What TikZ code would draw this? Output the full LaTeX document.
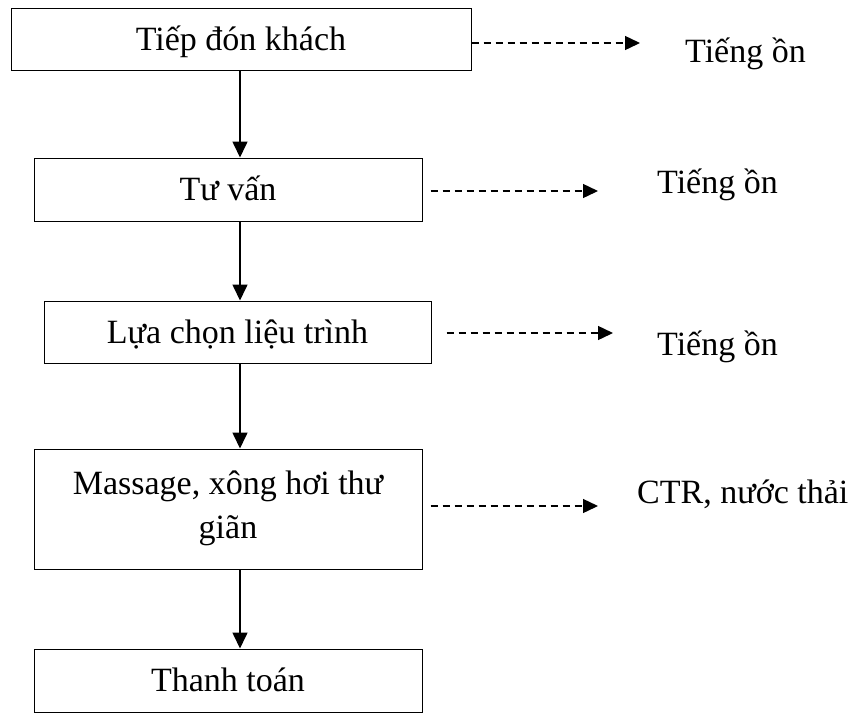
\documentclass[tikz,border=0pt]{standalone}
\usepackage{fontspec}
\setmainfont{Liberation Serif}
\usetikzlibrary{arrows.meta}
\begin{document}
\begin{tikzpicture}[x=1pt,y=-1pt,
  box/.style={draw, line width=1pt, inner sep=0pt, align=center,
    text height=22pt, text depth=0pt,
    font=\fontsize{34}{44}\selectfont},
  lbl/.style={anchor=base west, inner sep=0pt, font=\fontsize{34}{44}\selectfont},
  flow/.style={line width=1.6pt, -{Triangle[length=16pt,width=15pt]}},
  emit/.style={line width=1.4pt, dash pattern=on 7pt off 5pt,
    -{Triangle[length=15pt,width=14pt]}}]
\useasboundingbox (0,0) rectangle (860,713);

\node[box, minimum width=460pt, minimum height=62pt] (b1) at (241,39) {Tiếp đón khách};
\node[box, minimum width=388pt, minimum height=63pt] (b2) at (228,189.5) {Tư vấn};
\node[box, minimum width=387pt, minimum height=62pt] (b3) at (237.5,332) {Lựa chọn liệu trình};
\node[box, minimum width=388pt, minimum height=120pt, text height=66pt, text depth=8pt] (b4) at (228,509) {Massage, xông hơi thư\\giãn};
\node[box, minimum width=388pt, minimum height=63pt] (b5) at (228,680.5) {Thanh toán};

\coordinate (ax) at (240,0);
\draw[flow] (b1.south -| ax) -- (b2.north -| ax);
\draw[flow] (b2.south -| ax) -- (b3.north -| ax);
\draw[flow] (b3.south -| ax) -- (b4.north -| ax);
\draw[flow] (b4.south -| ax) -- (b5.north -| ax);

\coordinate (t1) at (640,43);
\coordinate (t2) at (598,191);
\coordinate (t3) at (613,333);
\coordinate (t4) at (598,506);

\node[lbl] (l1) at (685,62) {Tiếng ồn};
\node[lbl] (l2) at (657,193) {Tiếng ồn};
\node[lbl] (l3) at (657,355) {Tiếng ồn};
\node[lbl] (l4) at (637,503) {CTR, nước thải};

\draw[emit] (b1.east |- t1) -- (t1);
\draw[emit, shorten <=8pt] (b2.east |- t2) -- (t2);
\draw[emit, shorten <=15pt] (b3.east |- t3) -- (t3);
\draw[emit, shorten <=8pt] (b4.east |- t4) -- (t4);
\end{tikzpicture}
\end{document}
